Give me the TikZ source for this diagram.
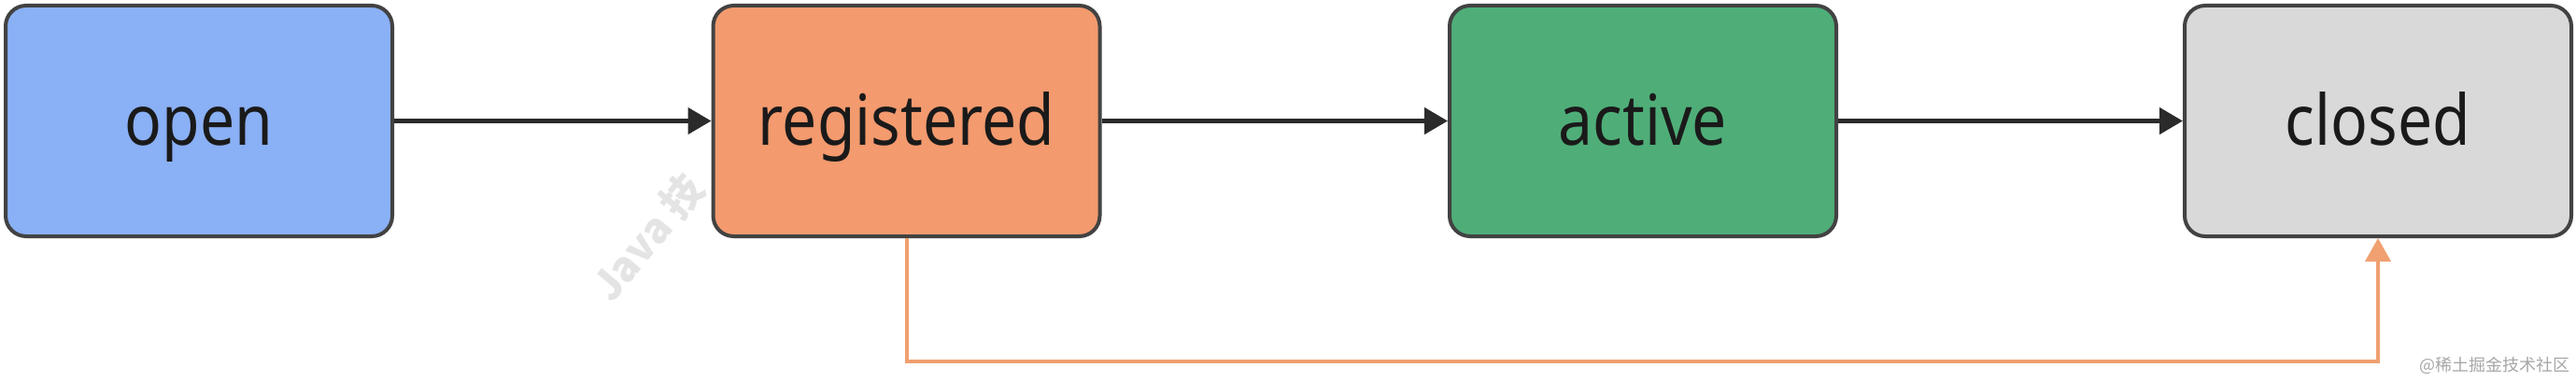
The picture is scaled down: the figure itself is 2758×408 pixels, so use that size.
\documentclass[tikz,border=0pt]{standalone}
\usepackage{fontspec}
\setmainfont[FakeStretch=0.88]{Noto Sans}
\newfontfamily\cjk{Noto Sans CJK SC}
\usetikzlibrary{arrows.meta}
\definecolor{cblue}{HTML}{8AB0F5}
\definecolor{corange}{HTML}{F39A6E}
\definecolor{cgreen}{HTML}{4FAE78}
\definecolor{cgray}{HTML}{D9D9D9}
\definecolor{cborder}{HTML}{424242}
\definecolor{carrow}{HTML}{2B2B2B}
\definecolor{cline}{HTML}{F0A071}
\definecolor{ctext}{HTML}{1A1A1A}
\definecolor{cwm}{HTML}{E4E4E4}
\definecolor{csig}{HTML}{A6A6A6}
\begin{document}
\begin{tikzpicture}[x=1pt,y=1pt,
  state/.style={draw=cborder, line width=4pt, rounded corners=22pt,
    minimum width=414pt, minimum height=247pt, inner sep=0pt,
    text=ctext, font=\fontsize{75}{75}\selectfont,
    text height=60pt, text depth=9pt},
  flow/.style={draw=carrow, line width=4.5pt, -{Triangle[length=25pt,width=28pt]}},
  oflow/.style={draw=cline, line width=4pt, -{Triangle[length=25pt,width=27pt]}},
  wm/.style={text=cwm, font=\cjk\bfseries\fontsize{44}{44}\selectfont, inner sep=0pt},
  sig/.style={text=csig, font=\cjk\fontsize{18}{18}\selectfont, inner sep=0pt}]
\useasboundingbox (0,0) rectangle (2758,408);
\node[wm, rotate=50, anchor=base west] (wmark) at (655,82) {Java 技};
\node[state, fill=cblue] (open) at (213,278.5) {open};
\node[state, fill=corange] (registered) at (970.5,278.5) {registered};
\node[state, fill=cgreen] (active) at (1759,278.5) {active};
\node[state, fill=cgray] (closed) at (2546,278.5) {closed};
\draw[flow] (open) -- (registered);
\draw[flow] (registered) -- (active);
\draw[flow] (active) -- (closed);
\coordinate (bend) at (0,21);
\draw[oflow] (registered.south) -- (registered.south |- bend) -| (closed.south);
\node[sig, anchor=east] (signature) at (2752,17) {@稀土掘金技术社区};
\end{tikzpicture}
\end{document}
